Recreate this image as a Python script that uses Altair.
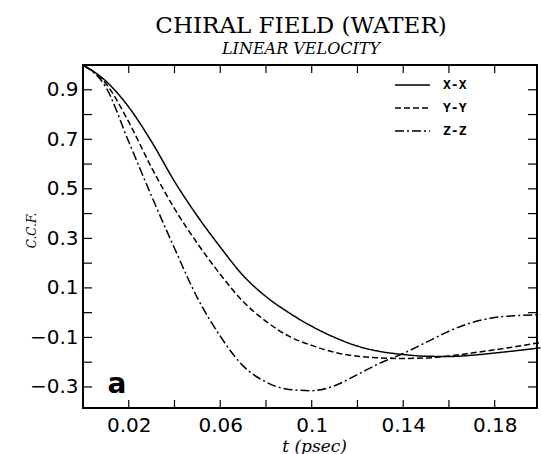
import altair as alt
import pandas as pd

# ---- data ----
t_vals = [0.0, 0.01, 0.02, 0.03, 0.04, 0.05, 0.06, 0.07, 0.08, 0.09, 0.10,
          0.11, 0.12, 0.13, 0.14, 0.15, 0.16, 0.17, 0.18, 0.19, 0.20]
xx_vals = [1.0, 0.935, 0.83, 0.69, 0.53, 0.39, 0.265, 0.15, 0.065, 0.0, -0.055,
           -0.10, -0.135, -0.157, -0.169, -0.176, -0.177, -0.172, -0.163, -0.153, -0.142]
yy_vals = [1.0, 0.925, 0.77, 0.585, 0.42, 0.28, 0.155, 0.045, -0.035, -0.095, -0.132,
           -0.16, -0.176, -0.183, -0.185, -0.183, -0.175, -0.163, -0.15, -0.136, -0.12]
zz_vals = [1.0, 0.91, 0.69, 0.47, 0.26, 0.06, -0.095, -0.215, -0.28, -0.31, -0.315,
           -0.295, -0.25, -0.203, -0.165, -0.12, -0.075, -0.04, -0.02, -0.012, -0.008]

series_names = ["X-X", "Y-Y", "Z-Z"]
dash_styles = [[1, 0], [6, 3], [9, 3, 2, 3]]

x_label_vals = [0.02, 0.06, 0.10, 0.14, 0.18]
x_tick_vals = [0.02, 0.04, 0.06, 0.08, 0.10, 0.12, 0.14, 0.16, 0.18]
y_label_vals = [-0.3, -0.1, 0.1, 0.3, 0.5, 0.7, 0.9]
y_tick_vals = [-0.3, -0.2, -0.1, 0.0, 0.1, 0.2, 0.3, 0.4, 0.5, 0.6, 0.7, 0.8, 0.9]

panel_label = ["a"]
panel_t = [0.0148]
panel_v = [-0.325]

# ---- layout ----
W, H = 454, 343
x_scale = alt.Scale(domain=[0, 0.1985], nice=False, zero=False)
y_scale = alt.Scale(domain=[-0.385, 1.0], nice=False, zero=False)
dash_scale = alt.Scale(domain=series_names, range=dash_styles)

rows = []
for name, vals in zip(series_names, [xx_vals, yy_vals, zz_vals]):
    for t, v in zip(t_vals, vals):
        rows.append({"t": t, "v": v, "series": name})
df = pd.DataFrame(rows)

lines = alt.Chart(df).mark_line(color="black", strokeWidth=1.5, interpolate="monotone").encode(
    x=alt.X("t:Q", scale=x_scale,
            axis=alt.Axis(values=x_label_vals, format="~g", title="t (psec)", ticks=False, domain=False,
                          grid=False, labelPadding=7, labelFont="DejaVu Sans", labelFontSize=20,
                          labelColor="black", titleFont="DejaVu Serif", titleFontStyle="italic",
                          titleFontWeight="normal", titleFontSize=17, titleColor="black",
                          titleX=231, titleY=38, titleBaseline="middle", titleAlign="center")),
    y=alt.Y("v:Q", scale=y_scale,
            axis=alt.Axis(values=y_label_vals, format=".1f", title="C.C.F.", ticks=False, domain=False,
                          grid=False, labelPadding=5, labelFont="DejaVu Sans", labelFontSize=20,
                          labelColor="black", titleFont="DejaVu Serif", titleFontStyle="italic",
                          titleFontWeight="normal", titleFontSize=12, titleColor="black",
                          titleX=-52, titleY=165, titleAngle=270, titleBaseline="middle",
                          titleAlign="center")),
    strokeDash=alt.StrokeDash("series:N", scale=dash_scale, legend=None),
)

ydf = pd.DataFrame({"v": y_tick_vals})
xdf = pd.DataFrame({"t": x_tick_vals})

left_ticks = alt.Chart(ydf).mark_rule(color="black", strokeWidth=1.2).encode(
    y=alt.Y("v:Q", scale=y_scale, axis=None), x=alt.value(0), x2=alt.value(9))
right_ticks = alt.Chart(ydf).mark_rule(color="black", strokeWidth=1.2).encode(
    y=alt.Y("v:Q", scale=y_scale, axis=None), x=alt.value(W), x2=alt.value(W - 9))
bottom_ticks = alt.Chart(xdf).mark_rule(color="black", strokeWidth=1.2).encode(
    x=alt.X("t:Q", scale=x_scale), y=alt.value(H), y2=alt.value(H - 8))
top_ticks = alt.Chart(xdf).mark_rule(color="black", strokeWidth=1.2).encode(
    x=alt.X("t:Q", scale=x_scale), y=alt.value(0), y2=alt.value(8))

legdf = pd.DataFrame({"series": series_names})
leg_y = alt.Y("series:N", scale=alt.Scale(type="point", domain=series_names, range=[20, 66], padding=0),
              axis=None)
leg_rules = alt.Chart(legdf).mark_rule(color="black", strokeWidth=1.5).encode(
    y=leg_y, x=alt.value(312), x2=alt.value(347),
    strokeDash=alt.StrokeDash("series:N", scale=dash_scale, legend=None))
leg_text = alt.Chart(legdf).mark_text(align="left", baseline="middle", font="DejaVu Sans Mono",
                                      fontSize=13, fontWeight="bold", color="black").encode(
    y=leg_y, x=alt.value(360), text="series:N")

adf = pd.DataFrame({"t": panel_t, "v": panel_v, "label": panel_label})
a_text = alt.Chart(adf).mark_text(align="center", baseline="alphabetic", font="DejaVu Sans",
                                  fontSize=28, fontWeight="bold", color="black").encode(
    x=alt.X("t:Q", scale=x_scale), y=alt.Y("v:Q", scale=y_scale, axis=None), text="label:N")

chart = alt.layer(lines, left_ticks, right_ticks, bottom_ticks, top_ticks, leg_rules, leg_text, a_text
).resolve_scale(y="independent").properties(
    width=W, height=H,
    autosize="none",
    background="white",
    padding={"left": 83, "top": 65, "right": 4, "bottom": 46},
    title=alt.TitleParams(text="CHIRAL FIELD (WATER)", subtitle="LINEAR VELOCITY",
                          font="DejaVu Serif", fontSize=23, fontWeight="normal", color="black",
                          subtitleFont="DejaVu Serif", subtitleFontStyle="italic", subtitleFontSize=16,
                          subtitleColor="black", anchor="middle", dx=-9, offset=5, subtitlePadding=3),
).configure_view(stroke="black", strokeWidth=2)

chart.save("out.html", embed_options={"renderer": "svg", "actions": False})
